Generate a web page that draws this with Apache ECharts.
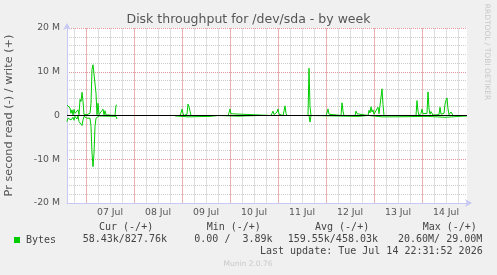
<!DOCTYPE html>
<html lang="en">
<head>
<meta charset="UTF-8">
<title>Disk throughput for /dev/sda - by week</title>
<script src="https://cdn.jsdelivr.net/npm/echarts@6/dist/echarts.min.js"></script>
<style>
  html, body { margin: 0; padding: 0; background: #f0f0f0; }
  #chart { width: 497px; height: 275px; }
</style>
</head>
<body>
<div id="chart"></div>
<script>
// x = hours since 06 Jul 00:00, y = MB/s (write up, read down)
var startHour = 14.5;
var endHour = 214.5;
var dayLabels = ['07 Jul', '08 Jul', '09 Jul', '10 Jul', '11 Jul', '12 Jul', '13 Jul', '14 Jul'];
var yTickLabels = ['-20 M', '-10 M', '0', '10 M', '20 M'];

var writeSeg1 = [[14.5,2.4],[15,2.1],[15.5,2.6],[16,1.7],[16.5,0.5],[17,1.3],[17.5,0.15],[18,1.4],[18.5,0.5],
  [19.5,0.15],[20,1.3],[20.5,0.2],[21,3.7],[21.5,3.2],[22,5.3],[22.5,3.2],[23,0.2],[23.5,0],[24.5,0.2],
  [25.5,0],[26,0.5],[26.5,2.8],[27,10.5],[27.5,11.6],[28.5,11.2],[29,5.1],[29.5,0.2],[30,2.8],[30.5,0.2],
  [31,0],[31.5,0.5],[32.5,1.45],[33,0.15],[33.5,1.1],[34,0.15],[34.5,0],[38.5,0],[39,2.3],[39.5,2.4]];
var writeSeg2 = [[68.5,0],[71,0],[71.5,0.6],[72,1.45],[72.5,0.5],[73,0],[74.5,0.3],[75,2.6],[75.5,2.0],[76,1.0],
  [76.5,0],[95,0],[95.5,0.6],[96,1.5],[96.5,0.4],[97,0],[116.5,0],[117,0.5],[117.5,1.0],[118,0.2],[119,0],
  [119.5,0.8],[120,1.5],[120.5,0.3],[122.5,0],[123,1.0],[123.5,2.2],[124,0.5],[124.5,0],[135,0],[135.5,10.8],
  [136,2.0],[136.5,0],[144,0],[144.5,0.6],[145,1.5],[145.5,0.3],[146,0],[151.5,0],[152,2.9],[152.5,1.0],[153,0],
  [158.5,0],[159,1.0],[159.5,0.4],[160,0],[165,0],[165.5,1.2],[166,0.6],[166.5,2.0],[167,0.8],[167.5,1.3],
  [168,0.3],[168.5,0.5],[170,1.9],[170.5,0.4],[171.5,0.5],[172,6.1],[172.5,2.5],[173,0],[189,0],[189.5,3.4],
  [190,1.0],[190.5,0],[191.5,0.5],[192,1.45],[192.5,0.4],[193,0],[194.5,0.5],[195,5.4],[195.5,1.5],[196,0.3],
  [196.5,0.9],[197,0.8],[197.5,0.1],[198,0],[200.5,0.2],[201,1.9],[201.5,0.3],[202,0],[203,0.5],[203.5,2.6],
  [204,3.5],[204.5,4.0],[205,1.5],[205.5,0.2],[206.5,0.8],[207,0.6],[207.5,0],[214.5,0]];
var readSeg1 = [[14.5,1.4],[15,0.6],[15.5,0.8],[16,0.2],[16.5,1.0],[17.5,0.4],[18,1.1],[18.5,0.2],[19.5,0.8],
  [20,0.1],[20.5,1.4],[21.5,1.75],[22,2.3],[22.5,1.0],[23,0.2],[23.5,0.4],[24.5,0.6],[25.5,0.2],[26,0.6],
  [26.5,2.5],[27,8.6],[27.5,11.7],[28,8.6],[28.5,2.5],[29,0.6],[29.5,0.4],[30.5,0.1],[39,0.2],[39.5,0.8]];
var readSeg2 = [[68.5,0.1],[75,0.3],[76,0],[86,0.2],[90,0],[100,0.15],[110,0],[135.5,0],[136,1.5],[136.5,0],
  [160,0.2],[165,0],[172,0.3],[173,0],[178.5,0.3],[179,0],[195,0.2],[196,0],[203.5,0.4],[204.5,0],[214.5,0.1]];

var legendHeads = ['Cur (-/+)', 'Min (-/+)', 'Avg (-/+)', 'Max (-/+)'];
var legendVals = ['58.43k/827.76k', '0.00 /  3.89k', '159.55k/458.03k', '20.60M/ 29.00M'];
var lastUpdate = 'Last update: Tue Jul 14 22:31:52 2026';

var headX = [99, 206.7, 315, 422.7];
var valX = [82.7, 194.3, 287.7, 398];

// half-hour slots used only for the time grid and day labels
var slots = [];
for (var s = startHour; s <= endHour; s += 0.5) slots.push(s);
function slotHour(i) { return startHour + i * 0.5; }

var writeData = writeSeg1.concat([[40, null]], writeSeg2);
var readData = readSeg1.concat([[40, null]], readSeg2).map(function (p) {
  return [p[0], p[1] === null ? null : -p[1]];
});

var green = '#00cc00';
var txt = '#555555';
var axisCol = '#c8c8f4';
var majorGrid = { color: '#e09898', type: [1, 1], width: 1 };
var minorGrid = { color: '#cccccc', type: [1, 1], width: 1 };
// vertical dotted lines came out patchy, so they are solid and lighter
var majorGridV = { color: '#eab0b0', type: 'solid', width: 1 };
var minorGridV = { color: '#e0e0e0', type: 'solid', width: 1 };

var chart = echarts.init(document.getElementById('chart'), null, { renderer: 'canvas' });

var graphics = [];
legendHeads.forEach(function (t, i) {
  graphics.push({ type: 'text', x: headX[i], y: 227.5,
    style: { text: t, font: '10px "DejaVu Sans Mono"', fill: '#444', textVerticalAlign: 'middle' } });
});
legendVals.forEach(function (t, i) {
  graphics.push({ type: 'text', x: valX[i], y: 239.5,
    style: { text: t, font: '10px "DejaVu Sans Mono"', fill: '#444', textVerticalAlign: 'middle' } });
});
graphics.push({ type: 'text', x: 482.7, y: 251.5,
  style: { text: lastUpdate, font: '10px "DejaVu Sans Mono"', fill: '#444', textAlign: 'right', textVerticalAlign: 'middle' } });
graphics.push({ type: 'text', x: 248, y: 264,
  style: { text: 'Munin 2.0.76', font: '7.5px "DejaVu Sans"', fill: '#c8c8c8', textAlign: 'center', textVerticalAlign: 'middle' } });
graphics.push({ type: 'text', x: 487, y: 52, rotation: -Math.PI / 2,
  style: { text: 'RRDTOOL / TOBI OETIKER', font: '7.5px "DejaVu Sans"', fill: '#c8c8c8', textAlign: 'center', textVerticalAlign: 'middle' } });

var option = {
  animation: false,
  backgroundColor: '#f0f0f0',
  title: {
    text: 'Disk throughput for /dev/sda - by week',
    left: 'center',
    top: 13,
    padding: 0,
    textStyle: { fontFamily: 'DejaVu Sans', fontSize: 12.5, fontWeight: 'normal', color: txt }
  },
  legend: {
    data: [{ name: 'Bytes', icon: 'rect' }],
    left: 9,
    top: 230,
    itemWidth: 6,
    itemHeight: 6,
    itemGap: 0,
    selectedMode: false,
    textStyle: { fontFamily: 'DejaVu Sans Mono', fontSize: 10, color: '#444', padding: [0, 0, 0, 1] }
  },
  grid: {
    left: 67, right: 30, top: 28, bottom: 72,
    outerBoundsMode: 'none',
    show: true, backgroundColor: '#ffffff', borderWidth: 0
  },
  xAxis: [
    {
      // minor grid every 6 hours
      type: 'category', data: slots, boundaryGap: false, position: 'bottom',
      axisLine: { show: false }, axisTick: { show: false }, axisLabel: { show: false },
      splitLine: { show: true, lineStyle: minorGridV,
        interval: function (i) { var h = slotHour(i); return h % 6 === 0 && h % 24 !== 0; } }
    },
    {
      // day lines and day labels at noon
      type: 'category', data: slots, boundaryGap: false, position: 'bottom',
      axisLine: { show: true, onZero: false, lineStyle: { color: axisCol },
        symbol: ['none', 'arrow'], symbolSize: [6, 7], symbolOffset: [0, 5] },
      axisTick: { show: false },
      axisLabel: { color: txt, fontFamily: 'DejaVu Sans', fontSize: 9.3, margin: 5,
        interval: function (i) { return slotHour(i) % 24 === 12; },
        formatter: function (v, i) { return dayLabels[Math.round((slotHour(i) - 36) / 24)]; } },
      splitLine: { show: true, lineStyle: majorGridV,
        interval: function (i) { return slotHour(i) % 24 === 0; } }
    },
    {
      type: 'value', min: startHour, max: endHour, show: false, position: 'bottom',
      splitLine: { show: false }
    }
  ],
  yAxis: {
    type: 'value', min: -20, max: 20, interval: 10,
    name: 'Pr second read (-) / write (+)',
    nameLocation: 'middle',
    nameGap: 52,
    nameTextStyle: { fontFamily: 'DejaVu Sans', fontSize: 11.3, color: txt },
    axisLine: { show: true, lineStyle: { color: axisCol },
      symbol: ['none', 'arrow'], symbolSize: [6, 7], symbolOffset: [0, 5] },
    axisTick: { show: false },
    axisLabel: { color: txt, fontFamily: 'DejaVu Sans', fontSize: 9.3, margin: 7,
      formatter: function (v) { return yTickLabels[Math.round((v + 20) / 10)]; } },
    splitLine: { show: true, lineStyle: majorGrid },
    minorTick: { show: false, splitNumber: 5 },
    minorSplitLine: { show: true, lineStyle: minorGrid }
  },
  series: [
    {
      name: 'Bytes', type: 'line', xAxisIndex: 2, data: writeData,
      showSymbol: false, connectNulls: false,
      lineStyle: { color: green, width: 1 }, itemStyle: { color: green },
      markLine: {
        silent: true, symbol: 'none', label: { show: false },
        lineStyle: { color: '#000000', width: 1, type: 'solid' },
        data: [{ yAxis: 0 }]
      }
    },
    {
      name: 'Bytes', type: 'line', xAxisIndex: 2, data: readData,
      showSymbol: false, connectNulls: false,
      lineStyle: { color: green, width: 1 }, itemStyle: { color: green }
    }
  ],
  graphic: graphics
};

chart.setOption(option);
</script>
</body>
</html>
